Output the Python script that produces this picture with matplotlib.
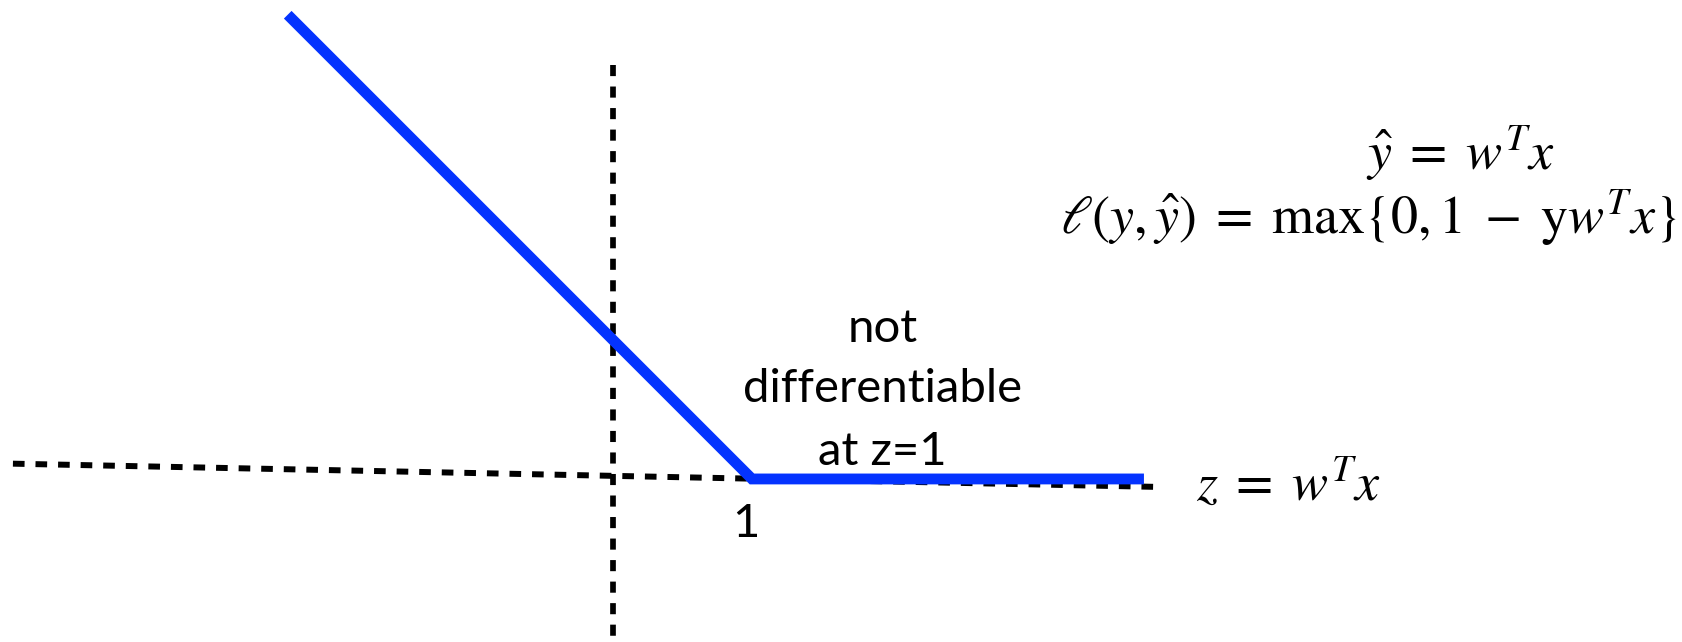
import numpy as np
import matplotlib.pyplot as plt

plt.rcParams['mathtext.fontset'] = 'stix'

# hinge loss curve, z = w^T x, loss = max(0, 1 - z)
hinge_z = [-2.34, 1.0, 3.82]
hinge_loss = [3.34, 0.0, 0.0]

# hand drawn axes (the horizontal one is slightly tilted in the original)
zaxis_z = [-4.317, 3.96]
zaxis_loss = [0.11, -0.058]
vaxis_z = [0.0, 0.0]
vaxis_loss = [2.98, -1.25]

note_lines = ['not', 'differentiable', 'at z=1']
note_loss = [0.986, 0.554, 0.10]
note_z = 1.94

fig = plt.figure(figsize=(16.82, 6.42), dpi=100)
ax = fig.add_axes([0, 0, 1, 1])
ax.set_xlim(-4.410, 7.691)
ax.set_ylim(-1.173, 3.446)
ax.axis('off')

dash = (0, (1.95, 1.83))
ax.plot(zaxis_z, zaxis_loss, color='black', lw=4.3, linestyle=dash,
        dash_capstyle='butt', zorder=1)
ax.plot(vaxis_z, vaxis_loss, color='black', lw=4.1, linestyle=dash,
        dash_capstyle='butt', zorder=1)

# the loss itself
ax.plot(hinge_z, hinge_loss, color='#0433ff', lw=7.8,
        solid_capstyle='butt', solid_joinstyle='miter', zorder=3)

# annotations
for txt, yy in zip(note_lines, note_loss):
    ax.text(note_z, yy, txt, ha='center', va='baseline',
            fontsize=34, family='Lato', color='black')
ax.text(0.957, -0.417, '1', ha='center', va='baseline',
        fontsize=34, family='Lato', color='black')

ax.text(4.194, -0.151, r'$z\;=\;w^{T}x$', ha='left', va='baseline',
        fontsize=39, color='black')
ax.text(5.417, 2.22, r'$\hat{y}\;=\;w^{T}x$', ha='left', va='baseline',
        fontsize=39, color='black')
ax.text(3.216, 1.76, r'$\ell(y,\hat{y})\;=\;\mathrm{max}\{0,1\;-\;\mathrm{y}w^{T}x\}$',
        ha='left', va='baseline', fontsize=39, color='black')

fig.savefig('out.png', dpi=100)
